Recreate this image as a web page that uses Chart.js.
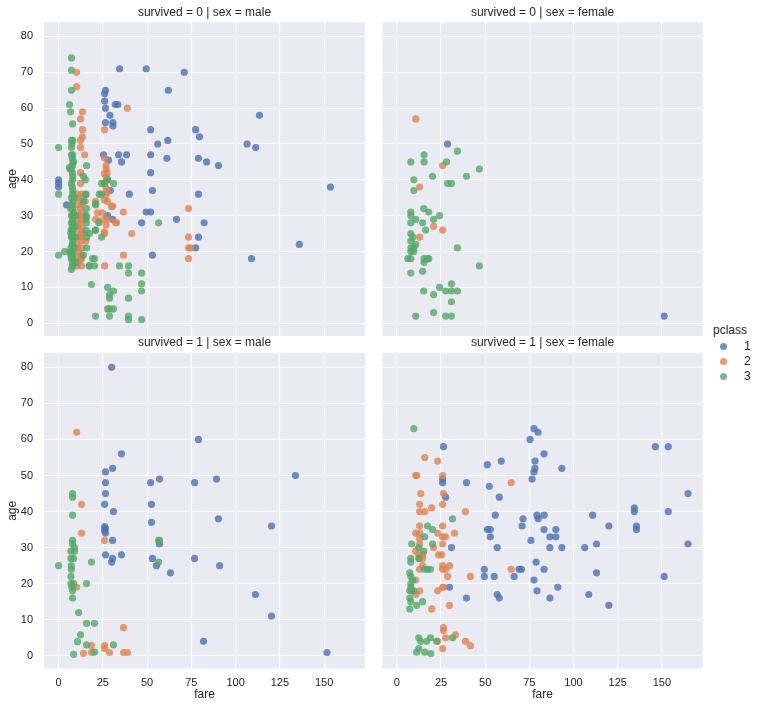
<!DOCTYPE html>
<html>
<head>
<meta charset="utf-8">
<script src="https://cdn.jsdelivr.net/npm/chart.js@4.4.1/dist/chart.umd.min.js"></script>
<style>
  body { margin: 0; background: #fff; width: 758px; height: 708px; position: relative; overflow: hidden;
         font-family: 'Liberation Sans', Arial, sans-serif; color: #262626; }
  canvas { position: absolute; }
  #legend { position: absolute; left: 713px; top: 323px; font-size: 12px; }
  #legend .ttl { height: 16px; }
  #legend .it { height: 15px; line-height: 15px; position: relative; }
  #legend .dot { position: absolute; left: 7px; top: 4px; width: 7px; height: 7px; border-radius: 50%; }
  #legend .lb { position: absolute; left: 31px; }
</style>
</head>
<body>
<canvas id="c1" width="370" height="340" style="left:0px;top:0px"></canvas>
<canvas id="c2" width="332" height="340" style="left:376px;top:0px"></canvas>
<canvas id="c3" width="370" height="376" style="left:0px;top:332px"></canvas>
<canvas id="c4" width="332" height="376" style="left:376px;top:332px"></canvas>
<div id="legend"></div>
<script>
// tick labels
var fareTicks = [0, 25, 50, 75, 100, 125, 150];
var ageTicks = [0, 10, 20, 30, 40, 50, 60, 70, 80];
var classes = ['1', '2', '3'];
var classColors = ['rgba(76,114,176,0.8)', 'rgba(221,132,82,0.8)', 'rgba(85,168,104,0.8)'];

// survived = 0 | sex = male   [fare, age]
var died_male_1 = [[34.5,71],[49.5,71],[71,70],[26.5,65],[62,65],[26,64],[26,62],[26.5,60],[32,61],[33.5,61],[29,58],[26.5,56],[30.7,56],[30.7,55],[113.5,58],[77.4,54],[79.6,52],[52,54],[56,50],[61.7,51],[106.5,50],[111.4,49],[25.4,47],[33.9,47],[38.4,47],[28.2,45.5],[35.6,45],[52,47],[61.2,46],[79,46],[83.6,45],[90.3,44],[52,42],[0,40],[0,39],[0,38],[153.6,38],[40,36],[79,36],[53,37],[29.2,37],[27.5,40],[4.5,33],[49.5,31],[52,31],[66.6,29],[46.9,28],[82.2,28],[79,24],[77.4,21],[53,19],[109,18],[136,22],[27.7,30],[30.5,29]];
var died_male_2 = [[10.2,70],[10.2,66],[13.5,59],[12.4,57],[13.5,54],[13.5,52],[12.4,51],[12.4,49],[14.7,47],[12.4,42],[12.4,39],[26,54],[38.8,60],[26,46],[26.8,44],[26.8,43],[27.5,42],[25.8,41.7],[26.8,40.8],[26,39],[26.8,37.6],[27.7,36.7],[26.8,35.8],[25.8,34.4],[27.7,33.9],[30.6,32.7],[29.9,32.5],[22,30.8],[24.8,30.8],[25.8,29],[23,28.5],[27.7,29],[26.8,27.4],[25.8,25.5],[26,25],[32.7,28],[36.6,31],[32.1,28.2],[41.3,25],[36.7,19],[26,16],[73.4,32],[73.4,24],[73.4,21],[74.5,21],[73.4,18],[20.9,34],[20.9,29],[10.2,16],[12.4,18],[10.5,36],[13,36],[11.5,35],[13,34],[10.5,33],[12.3,32],[13,31],[10.5,30],[11.5,30],[13,29],[15,29],[10.5,28],[13,27],[11.5,26],[13,25],[10.5,24],[12.3,24],[13,23],[15.5,23],[10.5,22],[13,21],[11.5,20],[13,19],[10.5,18.5],[13,18],[11.5,17],[14.5,30],[15,34],[10.5,27],[13,33],[12,28],[14,25],[10.5,21],[13,16]];
var died_male_3 = [[7.3,74],[7.3,70.6],[7.3,65],[6.2,61],[6.8,59],[7.9,55.6],[7.3,51],[8,51],[7.3,49],[7.3,47],[0,49],[15.8,44],[14,41],[15.2,40],[24.3,39],[26,39],[31,39],[27.7,40],[23,36],[24.3,36],[15.2,36],[0,36],[14,34],[20.9,33],[15.8,32],[15.8,29.6],[15.8,28],[22.7,28],[20.9,26],[17.5,25],[15.8,24],[24.3,24],[56.5,28],[15.8,21],[14,19],[20.3,18],[0,19],[3.4,20],[17.5,16],[20.3,16],[34.4,16],[39.5,16],[39.5,14],[46.9,14],[18.6,10.8],[27.7,10],[28.8,8],[31,9],[28.8,7],[39.5,7],[46.9,11],[46.9,9],[27.7,4],[28.8,4],[31,4],[20.9,2],[28.8,2],[39.5,2],[39.5,1],[46.9,1],[15.5,35.9],[15.5,30.1],[15.5,26],[21,33.4],[20.8,26],[19.2,18],[17.3,16],[7.25,15],[7.75,16],[8.05,16],[7.9,17],[7.25,18],[8.05,18],[7.75,19],[7.9,20],[7.25,20],[8.66,21],[7.05,21],[7.75,22],[7.9,22],[8.05,23],[7.25,24],[7.75,24],[9.5,24],[7.9,25],[7.05,26],[8.05,26],[7.75,27],[7.25,28],[7.9,28],[8.05,29],[7.75,30],[7.25,30],[8.66,31],[7.9,32],[7.05,33],[7.75,33],[8.05,34],[7.25,35],[7.9,36],[8.05,37],[7.75,38],[7.25,39],[7.9,40],[8.05,41],[7.75,42],[7.25,43],[7.9,44],[8.05,45],[7.75,46],[7.9,47],[6.5,20],[6.95,25],[9.2,27],[9.5,30],[6.75,32],[9,35],[6.45,43],[8.5,45],[7.5,50],[6.2,43.5],[9.8,17],[6.9,19]];

// survived = 0 | sex = female
var died_female_1 = [[28.7,50],[151.3,2]];
var died_female_2 = [[10.7,57],[25.9,44],[12.9,38],[20.8,27],[25.9,26],[12.9,24]];
var died_female_3 = [[34.3,48],[15.4,47],[7.9,45],[15.4,45],[28.1,45],[46.7,43],[20.2,41],[39.4,41],[9.6,40],[28.7,39],[30.9,39],[9.6,37],[15.2,32],[18,31],[7.9,31],[7.9,30],[24.2,30],[10.7,29],[20.8,29],[7.9,28],[14.6,28],[16.3,26],[7.9,25],[9,24],[7.9,23],[10.7,22],[7.9,21],[9.6,21],[7.9,20],[9.6,20],[34.3,21],[6.2,18],[7.9,18],[15.4,18],[18,18],[17.4,18],[15.4,17],[46.7,16],[14.6,14.5],[7.9,14],[30.9,11],[24.2,10],[15.2,9],[27.6,9],[30.9,9],[34.3,9],[20.8,8],[30.9,6],[20.8,3],[10.7,2],[27.6,2],[30.9,2]];

// survived = 1 | sex = male
var saved_male_1 = [[30,80],[79,60],[35.5,56],[30.5,52],[26.5,51],[133.8,50],[52,48],[57,49],[89.2,49],[76.8,48],[26.5,48],[26.5,45],[26,42],[52.5,42],[31,40],[90.3,38],[120.3,36],[52.5,37],[26,35.8],[26.5,35.3],[26,34.7],[26.5,34],[30.5,32],[57,31],[26.5,28],[35.5,28],[30.5,27],[30,26],[53,27],[76.8,27],[55.3,25],[91,25],[63.2,23],[111.2,17],[120.3,11],[81.9,4],[151.6,0.9]];
var saved_male_2 = [[10.2,62],[13,42],[13,34],[26,32],[10.2,19],[36.7,7.8],[18.6,2.8],[26,2.8],[26,2],[14.1,0.7],[18.6,0.9],[28.8,0.9],[36.7,0.9],[39,0.9]];
var saved_male_3 = [[0,25],[7.9,45],[7.9,44],[7.9,39],[7.9,32],[7.9,31],[7,29],[9,30],[9,29],[7,27],[8.5,27],[18.6,26],[7.2,24],[7.2,25],[7,22],[7,20],[8.5,20],[7.5,19],[7.9,18],[7.9,16],[15.8,20],[11.3,12],[12.4,5.8],[10.7,3.9],[15.8,9],[20.3,9],[15.8,3],[31,3],[20.3,1],[8.5,0.4],[56.5,32],[57,32],[56.5,26]];

// survived = 1 | sex = female
var saved_female_1 = [[77.6,63],[79.9,62],[75.4,60],[26.4,58],[146.3,58],[153.6,58],[83.3,56],[59.1,54],[78.2,54],[51.2,53],[93.4,52],[78.2,52],[77.6,51],[76.5,49],[25.9,49],[25.9,48],[39.4,48],[52.3,47],[58,44],[27.6,44],[164.8,45],[134.4,41],[134.4,40],[153.6,40],[55.7,39],[110.8,39],[71.4,38],[70.9,36],[79.3,39],[80,38],[83.3,39],[120,36],[135.6,36],[135.6,35],[51.2,35],[52.9,35],[52.9,33],[83.3,35],[90,35],[86.6,33],[90,33],[75.9,32],[113,31],[164.8,31],[30.9,30],[56.8,30],[86.6,30],[93.4,30],[106.3,30],[78.8,26],[49.5,24],[69.2,24],[70.5,24],[83.3,24],[49.5,22],[55.1,22],[66.4,22],[113,23],[151.3,22],[77.6,21],[29.8,19],[91.1,19],[79.3,18],[56.8,17],[58,16],[108.6,17],[39.4,16],[86.6,16],[120,14]];
var saved_female_2 = [[15.8,55],[23.1,54],[10.7,50],[11.3,50],[25.9,50],[64.7,48],[13.5,45],[26.4,45],[12.9,42],[19.7,41],[25.9,42],[12.9,40],[15.8,40],[38.8,40],[12.9,36],[10.7,34],[12.9,34],[25.9,36],[23.1,34],[25.9,33],[27.6,33],[32.6,34],[12.9,32.5],[12.9,31],[25.9,31],[20.8,30],[10.7,29],[12.4,28],[14.6,28],[23.6,28],[25.3,28],[12.9,27],[14.6,27],[14.6,25],[12.9,24],[25.9,25],[29.8,25],[25.9,24],[27.6,24],[64.7,24],[28.7,22],[10.7,21],[41.6,22],[10.7,17],[12.9,18],[23.1,18],[25.9,19],[26.4,19],[19.7,13],[29.8,14],[26.4,7.8],[26.4,7],[27.6,5],[33.2,5.8],[23.1,4],[38.8,4],[41.6,2.8],[25.9,2]];
var saved_female_3 = [[9.6,63],[31.5,38],[17.4,36],[20.2,35],[15.8,33],[8.4,31],[20.2,31],[12.4,30],[15.2,29],[12.4,27],[7.9,27],[7.9,26],[15.8,24],[17.4,24],[19,24],[7.3,23],[7.9,22],[9,21],[7.9,20],[7.3,18],[7.9,19],[8.4,18],[9.6,18],[7.3,16],[7.9,15],[14.6,15],[11.2,14],[7.3,13],[12.4,5],[19.1,5],[22.5,4],[16.9,4],[31.5,5],[13.5,4],[12.4,2],[11.2,1],[15.8,1],[19.1,0.6]];

var FONT = "'Liberation Sans', Arial, sans-serif";
var TEXT = '#262626';

// grey panel background
var panelBg = {
  id: 'panelBg',
  beforeDraw: function(chart) {
    var a = chart.chartArea, ctx = chart.ctx;
    ctx.save();
    ctx.fillStyle = '#eaeaf2';
    ctx.fillRect(a.left, a.top, a.right - a.left, a.bottom - a.top);
    ctx.restore();
  }
};

function toPoints(arr) {
  return arr.map(function(p) { return {x: p[0], y: p[1]}; });
}

// the tick label padding would otherwise shrink the plot area
function noEdgePadding(s) {
  s.paddingTop = 0; s.paddingBottom = 0; s.paddingLeft = 0; s.paddingRight = 0;
}

function makePanel(id, title, series, showX, showY, pad) {
  var datasets = series.map(function(s, i) {
    return {
      label: classes[i],
      data: toPoints(s),
      backgroundColor: classColors[i],
      borderWidth: 0,
      pointRadius: 3.6,
      order: 3 - i
    };
  });
  return new Chart(document.getElementById(id), {
    type: 'scatter',
    data: { datasets: datasets },
    plugins: [panelBg],
    options: {
      responsive: false,
      animation: false,
      layout: { padding: pad },
      plugins: {
        legend: { display: false },
        tooltip: { enabled: false },
        title: {
          display: true, text: title, fullSize: false, color: TEXT,
          font: { family: FONT, size: 12, weight: 'normal', lineHeight: 1.2 },
          padding: { top: 3.8, bottom: 2.8 }
        }
      },
      scales: {
        x: {
          type: 'linear', min: -8.24, max: 173.1,
          afterBuildTicks: function(s) { s.ticks = fareTicks.map(function(v) { return {value: v}; }); },
          afterFit: function(s) { s.height = showX ? 39.4 : 0; noEdgePadding(s); },
          grid: { color: '#ffffff', lineWidth: 1.1, drawTicks: false, tickLength: 0 },
          border: { display: false },
          ticks: { display: showX, padding: 8, color: TEXT, font: { family: FONT, size: 11 } },
          title: { display: showX, text: 'fare', color: TEXT, font: { family: FONT, size: 12 }, padding: { top: 0, bottom: 6 } }
        },
        y: {
          type: 'linear', min: -3.56, max: 83.98,
          afterBuildTicks: function(s) { s.ticks = ageTicks.map(function(v) { return {value: v}; }); },
          afterFit: function(s) { s.width = showY ? 44 : 0; noEdgePadding(s); },
          grid: { color: '#ffffff', lineWidth: 1.1, drawTicks: false, tickLength: 0 },
          border: { display: false },
          ticks: { display: showY, padding: 11, color: TEXT, font: { family: FONT, size: 11 } },
          title: { display: showY, text: 'age', color: TEXT, font: { family: FONT, size: 12 }, padding: { top: 5, bottom: 0 } }
        }
      }
    }
  });
}

makePanel('c1', 'survived = 0 | sex = male', [died_male_1, died_male_2, died_male_3], false, true,
  { left: 0, right: 5, top: 1.2, bottom: 2 });
makePanel('c2', 'survived = 0 | sex = female', [died_female_1, died_female_2, died_female_3], false, false,
  { left: 6.3, right: 5.3, top: 1.2, bottom: 2 });
makePanel('c3', 'survived = 1 | sex = male', [saved_male_1, saved_male_2, saved_male_3], true, true,
  { left: 0, right: 5, top: 0, bottom: 0 });
makePanel('c4', 'survived = 1 | sex = female', [saved_female_1, saved_female_2, saved_female_3], true, false,
  { left: 6.3, right: 5.3, top: 0, bottom: 0 });

// shared legend
var lg = document.getElementById('legend');
var html = '<div class="ttl">pclass</div>';
classes.forEach(function(c, i) {
  html += '<div class="it"><span class="dot" style="background:' + classColors[i] + '"></span><span class="lb">' + c + '</span></div>';
});
lg.innerHTML = html;
</script>
</body>
</html>
